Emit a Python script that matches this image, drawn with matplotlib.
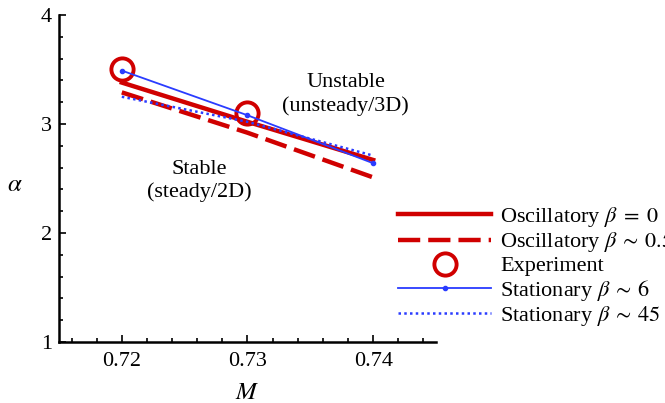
import numpy as np
import matplotlib.pyplot as plt
import matplotlib as mpl
from matplotlib.ticker import MultipleLocator

mpl.rcParams['font.family'] = ['Liberation Serif', 'DejaVu Serif']
mpl.rcParams['mathtext.fontset'] = 'stix'

mach = [0.72, 0.73, 0.74]
osc_b0 = [3.38, 3.02, 2.67]
osc_b05 = [3.29, 2.92, 2.51]
exp_mach = [0.72, 0.73]
exp_alpha = [3.50, 3.10]
stat_b6 = [3.49, 3.08, 2.64]
stat_b45 = [3.25, 3.02, 2.71]

red = '#d00000'
blue = '#2a3cff'
fs = 16

fig = plt.figure(figsize=(6.65, 4.03), dpi=100)
ax = fig.add_axes([0.0887, 0.1514, 0.5669, 0.8114])

ax.plot(mach, osc_b0, color=red, lw=3.2, label=r'Oscillatory $\beta\;=\;0$')
ax.plot(mach, osc_b05, color=red, lw=3.2, ls=(0, (5, 1.8)),
        label=r'Oscillatory $\beta\:\sim\:0.5$')
ax.plot(exp_mach, exp_alpha, ls='none', marker='o', ms=16, mfc='none',
        mec=red, mew=2.8, label='Experiment')
ax.plot(mach, stat_b6, color=blue, lw=1.3, marker='o', ms=3,
        label=r'Stationary $\beta\:\sim\:6$')
ax.plot(mach, stat_b45, color=blue, lw=1.8, ls=(0, (1, 1.3)),
        label=r'Stationary $\beta\:\sim\:45$')

ax.text(0.7378, 3.27, 'Unstable\n(unsteady/3D)', ha='center', va='center',
        fontsize=fs, linespacing=1.3)
ax.text(0.7262, 2.48, 'Stable\n(steady/2D)', ha='center', va='center',
        fontsize=fs, linespacing=1.2)

ax.set_xlim(0.715, 0.745)
ax.set_ylim(1, 4)
ax.set_xticks([0.72, 0.73, 0.74])
ax.set_yticks([1, 2, 3, 4])
ax.xaxis.set_minor_locator(MultipleLocator(0.002))
ax.yaxis.set_minor_locator(MultipleLocator(0.2))
ax.tick_params(which='both', direction='in', labelsize=fs, width=1.2)
ax.tick_params(which='major', length=5)
ax.tick_params(which='minor', length=3)
ax.tick_params(axis='x', pad=7)
ax.tick_params(axis='y', pad=5)
for s in ['top', 'right']:
    ax.spines[s].set_visible(False)
for s in ['left', 'bottom']:
    ax.spines[s].set_linewidth(1.8)

ax.set_xlabel(r'$M$', fontsize=18, labelpad=8)
ax.set_ylabel(r'$\alpha$', fontsize=18, rotation=0, va='center', ha='center')
ax.yaxis.set_label_coords(-0.117, 0.48)

fig.legend(loc='upper left', bbox_to_anchor=(0.585, 0.513), frameon=False,
           fontsize=fs, handlelength=4.2, handletextpad=0.4,
           labelspacing=0.06, borderaxespad=0)

fig.savefig('out.png', dpi=100)
